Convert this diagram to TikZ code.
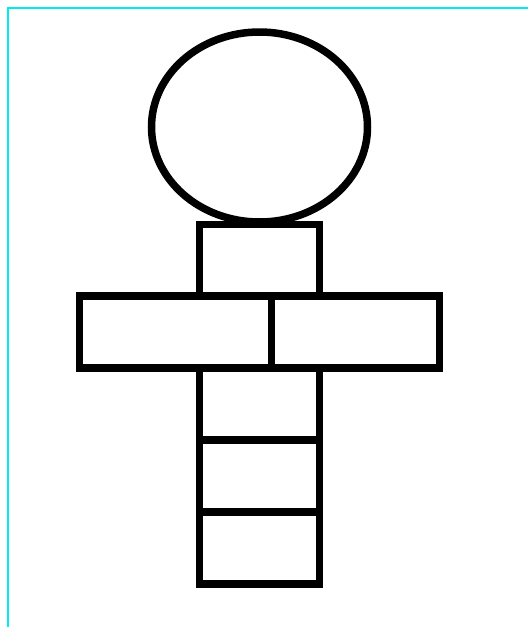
\documentclass[tikz,border=0pt]{standalone}
\usepackage{tikz}
\definecolor{framecyan}{RGB}{0,235,240}

\begin{document}
\begin{tikzpicture}[x=1pt,y=-1pt,
        part/.style={draw=black, line width=7.5pt},
        frame/.style={draw=framecyan, line width=2pt}
      ]
      \useasboundingbox (0,0) rectangle (528,627);
      \draw[frame] (8,627) -- (8,8) -- (528,8);
      % head
      \draw[part] (259.5,127) ellipse [x radius=108, y radius=95];
      % neck
      \draw[part] (199.5,224.5) rectangle (319.5,296);
      % arms
      \draw[part] (79.5,296) rectangle (271.5,368);
      \draw[part] (271.5,296) rectangle (439.5,368);
      % body
      \draw[part] (199.5,368) rectangle (319.5,440);
      \draw[part] (199.5,440) rectangle (319.5,512);
      \draw[part] (199.5,512) rectangle (319.5,584);
    \end{tikzpicture}
\end{document}
